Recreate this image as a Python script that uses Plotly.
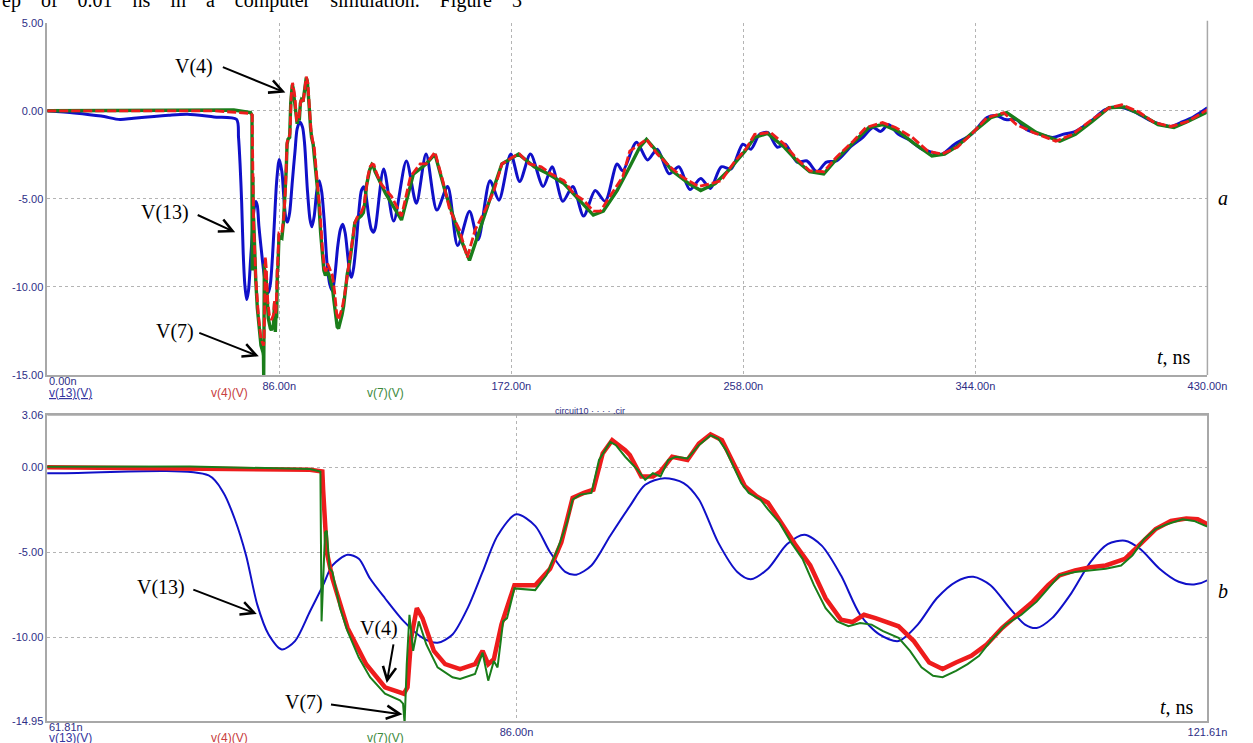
import plotly.graph_objects as go

# ---------------- waveform data (time in ns, voltage in V) ----------------
t13 = [0, 10, 20, 27, 32, 45, 52, 61.81, 70.13, 70.90, 71.48, 72.06, 72.64, 73.22, 73.90,
       74.58, 75.35, 76.03, 76.51, 77.29, 77.87, 78.45, 79.22, 80.19, 81.16, 81.93, 82.70,
       83.48, 84.25, 85.02, 85.99, 86.96, 87.73, 88.51, 89.08, 89.86, 90.83, 91.84, 92.63,
       93.62, 94.61, 95.40, 96.39, 97.38, 98.07, 98.96, 99.95, 100.84, 101.73, 102.72,
       103.71, 104.70, 105.69, 106.68, 107.66, 108.65, 109.54, 110.43, 111.42, 112.21,
       112.81, 113.60, 114.59, 115.58, 116.47, 117.36, 118.15, 119.14, 120.13, 120.92,
       121.61, 124.7, 128.4, 133.1, 136.8, 140.4, 144.4, 148.4, 152.1, 156.5, 159.7, 164.1,
       167.4, 171.8, 175.1, 179.1, 183.8, 187.1, 191.1, 194.8, 198.8, 203.1, 206.8, 211.2,
       213.3, 218.4, 222.5, 226.1, 230.5, 234.1, 238.2, 242.2, 245.8, 249.8, 253.5, 257.8,
       260.8, 264.0, 267.0, 270.6, 273.5, 277.9, 281.6, 285.2, 288.8, 292.5, 298.0, 302.3,
       306.0, 308.9, 311.8, 315.5, 319.1, 324.2, 327.9, 331.5, 336.3, 342.5, 348.3, 351.9,
       355.2, 359.2, 362.9, 368.0, 372.7, 376.4, 381.1, 386.2, 392.1, 397.2, 403.0, 408.1,
       412.8, 416.5, 420.1, 424.9, 430.0]
v13 = [0.0, -0.12, -0.30, -0.50, -0.42, -0.25, -0.20, -0.35, -0.48, -1.51, -3.06, -5.19,
       -8.10, -9.84, -10.72, -10.23, -8.49, -6.94, -5.78, -5.15, -5.39, -6.55, -7.71, -9.07,
       -10.04, -10.33, -9.84, -8.29, -6.16, -4.03, -2.77, -3.45, -5.00, -6.16, -6.32, -5.78,
       -4.03, -2.29, -1.03, -0.64, -0.93, -1.90, -4.42, -6.16, -6.59, -5.97, -4.52, -3.97,
       -4.61, -6.36, -8.68, -9.84, -10.23, -9.26, -7.71, -6.74, -6.45, -6.94, -8.29, -9.26,
       -9.46, -8.88, -7.42, -5.58, -4.52, -4.32, -4.81, -5.97, -6.74, -6.90, -6.65, -3.30,
       -6.26, -2.85, -5.25, -2.46, -5.64, -4.30, -7.65, -5.70, -7.32, -3.97, -5.08, -2.46,
       -4.02, -2.46, -4.30, -3.18, -5.14, -4.30, -5.98, -4.53, -5.14, -3.02, -3.41, -1.79,
       -2.79, -2.18, -3.58, -3.18, -4.47, -3.85, -4.41, -3.18, -3.30, -1.90, -2.18, -1.34,
       -1.23, -2.07, -1.90, -2.91, -2.85, -3.46, -2.91, -2.85, -2.01, -1.51, -0.95, -1.17,
       -0.78, -1.34, -1.62, -2.18, -2.35, -2.46, -1.90, -1.34, -0.39, -0.28, -0.50, -0.50,
       -1.06, -1.34, -1.51, -1.34, -1.17, -0.67, 0.06, 0.22, -0.06, -0.50, -0.78, -0.89,
       -0.67, -0.34, 0.17]

t4 = [0, 61.81, 75.35, 75.99, 76.03, 76.22, 76.51, 77.29, 78.25, 79.22, 80.19, 80.38,
      80.57, 80.86, 81.15, 81.74, 82.32, 83.09, 83.86, 84.25, 84.54, 84.83, 85.22, 85.89,
      86.96, 87.73, 88.31, 88.89, 89.47, 89.96, 90.44, 90.93, 91.60, 91.84, 92.43, 93.03,
      93.42, 94.02, 94.81, 95.40, 96.00, 96.59, 97.18, 97.77, 98.37, 98.96, 99.75, 100.35,
      101.14, 101.93, 102.72, 103.31, 103.91, 104.50, 105.69, 106.48, 107.27, 107.96,
      108.65, 109.44, 110.23, 111.03, 111.82, 112.61, 113.40, 113.99, 114.79, 115.58,
      116.37, 117.36, 118.15, 118.94, 119.73, 120.52, 121.11, 121.61, 123.6, 127.6, 131.3,
      134.6, 138.2, 140.4, 143.7, 146.6, 149.2, 152.8, 155.7, 158.6, 162.3, 165.6, 168.5,
      173.2, 175.1, 178.7, 183.1, 186.7, 191.5, 195.1, 198.8, 202.4, 205.0, 208.6, 213.3,
      215.9, 219.6, 222.1, 226.1, 230.5, 235.2, 241.4, 246.2, 249.8, 254.9, 258.9, 262.2,
      268.1, 273.2, 277.9, 282.6, 287.8, 292.5, 298.7, 303.4, 309.6, 314.4, 320.6, 326.4,
      331.5, 337.3, 342.5, 348.3, 354.5, 359.2, 365.4, 373.8, 380.0, 386.2, 393.5, 398.3,
      404.5, 410.3, 416.5, 422.7, 430.0]
v4 = [0.0, 0.0, -0.15, -0.25, -1.32, -5.00, -6.55, -9.46, -11.59, -12.95, -13.33, -12.95,
      -10.04, -8.29, -8.88, -10.81, -11.59, -11.88, -11.59, -10.81, -11.59, -11.30, -9.26,
      -6.94, -6.94, -5.97, -4.42, -1.80, -1.51, -1.32, 0.81, 1.59, 1.01, 0.72, -0.54, -0.54,
      -0.25, 0.62, 0.43, 1.40, 1.94, 1.59, 0.23, -1.12, -1.71, -2.09, -3.45, -4.52, -5.78,
      -7.71, -8.97, -9.11, -8.68, -8.88, -9.36, -10.23, -11.49, -11.88, -11.49, -11.10,
      -10.43, -9.46, -8.68, -7.91, -6.94, -6.36, -6.07, -5.88, -5.78, -5.39, -4.52, -3.64,
      -3.16, -3.02, -3.06, -3.35, -4.13, -4.86, -5.98, -3.74, -3.02, -3.02, -2.35, -3.97,
      -5.64, -6.76, -8.32, -6.76, -5.64, -4.53, -3.02, -2.57, -2.46, -3.02, -3.18, -3.58,
      -3.97, -4.69, -5.08, -5.70, -5.70, -4.86, -3.74, -2.29, -1.90, -1.62, -2.46, -3.13,
      -3.74, -4.30, -4.13, -3.97, -2.85, -2.18, -1.34, -1.23, -1.90, -2.74, -3.41, -3.46,
      -2.63, -1.73, -0.95, -0.67, -0.95, -1.51, -2.29, -2.46, -2.07, -1.34, -0.39, -0.11,
      -0.78, -1.23, -1.73, -1.34, -0.61, 0.17, 0.34, -0.06, -0.67, -0.89, -0.61, 0.06]

t7 = [0, 61.81, 69.16, 75.35, 75.89, 75.95, 76.03, 76.13, 76.22, 76.36, 76.51, 76.90,
      77.29, 77.87, 78.45, 79.22, 79.99, 80.15, 80.23, 80.34, 80.48, 80.67, 80.96, 81.35,
      81.93, 82.70, 83.09, 83.86, 84.25, 84.54, 84.83, 85.02, 85.31, 85.51, 85.89, 86.96,
      87.54, 88.12, 88.60, 88.89, 89.28, 89.86, 90.25, 90.83, 91.12, 91.60, 92.24, 92.63,
      93.03, 93.42, 93.82, 94.21, 94.81, 95.40, 96.00, 96.39, 96.79, 97.18, 97.58, 97.97,
      98.57, 98.96, 99.55, 100.15, 100.74, 101.33, 101.93, 102.52, 103.11, 103.71, 104.30,
      104.89, 105.69, 106.28, 106.87, 107.47, 107.96, 108.65, 109.25, 109.84, 110.43,
      111.22, 112.02, 112.81, 113.40, 113.99, 114.79, 115.58, 116.37, 117.16, 117.75,
      118.35, 118.94, 119.53, 120.32, 120.92, 121.51, 125.4, 131.3, 135.7, 140.4, 143.7,
      147.7, 152.8, 156.5, 160.1, 164.8, 168.5, 174.7, 180.5, 185.6, 191.5, 197.7, 202.4,
      206.1, 211.2, 215.9, 219.6, 222.1, 226.8, 231.6, 237.8, 242.2, 247.6, 252.4, 258.6,
      262.2, 267.0, 273.2, 277.9, 282.6, 287.8, 292.5, 299.8, 304.5, 309.6, 315.5, 321.7,
      327.9, 332.6, 337.3, 343.5, 349.7, 355.6, 360.7, 366.5, 375.3, 381.1, 387.3, 393.5,
      399.3, 405.5, 411.7, 417.6, 422.7, 430.0]
v7 = [0.0, 0.04, 0.04, -0.10, -0.25, -9.07, -6.55, -3.84, -3.74, -5.97, -6.16, -8.29,
      -9.65, -11.20, -12.36, -13.33, -13.72, -13.91, -15.08, -11.59, -8.68, -10.81, -9.07,
      -10.43, -11.78, -12.36, -12.46, -12.17, -10.91, -12.56, -11.40, -11.78, -9.07, -8.88,
      -7.13, -7.23, -6.36, -4.81, -3.26, -1.90, -1.61, -1.51, 0.43, 1.49, 1.30, 0.62, -0.15,
      -0.74, -0.35, -0.54, 0.43, 0.62, 0.52, 1.30, 1.88, 1.69, 1.01, 0.04, -0.93, -1.51,
      -1.90, -2.48, -3.26, -4.42, -5.39, -6.94, -8.29, -9.07, -9.36, -9.17, -9.26, -9.65,
      -10.04, -10.81, -11.78, -12.27, -12.36, -11.98, -11.59, -11.10, -10.23, -9.26, -8.68,
      -7.91, -7.13, -6.36, -6.16, -6.07, -5.97, -5.78, -5.19, -4.22, -3.64, -3.35, -3.06,
      -3.16, -3.45, -4.70, -6.20, -3.60, -3.02, -2.46, -4.70, -7.10, -8.50, -6.90, -4.70,
      -3.02, -2.46, -3.18, -3.58, -4.13, -5.14, -5.92, -5.70, -4.53, -3.18, -2.07, -1.62,
      -2.46, -3.41, -4.13, -4.53, -4.13, -3.41, -2.29, -1.51, -1.29, -2.07, -2.85, -3.46,
      -3.58, -2.74, -1.62, -0.95, -0.78, -1.17, -1.90, -2.57, -2.46, -2.01, -1.17, -0.39,
      -0.11, -0.61, -1.23, -1.73, -1.34, -0.61, 0.17, 0.22, -0.22, -0.78, -0.95, -0.61,
      -0.06]

# ---------------- axis ticks ----------------
a_xticks = [86, 172, 258, 344, 430]
a_xtext = ["86.00n", "172.00n", "258.00n", "344.00n", "430.00n"]
a_yticks = [5, 0, -5, -10, -15]
a_ytext = ["5.00", "0.00", "-5.00", "-10.00", "-15.00"]
b_xticks = [86, 121.61]
b_xtext = ["86.00n", "121.61n"]
b_yticks = [3.06, 0, -5, -10, -14.95]
b_ytext = ["3.06", "0.00", "-5.00", "-10.00", "-14.95"]

BLUE = "#1010c8"
RED = "#ee1c1c"
GREEN = "#1a7d1a"
TICK = "#2e2e86"
AXIS = "#a8a8a8"
GRID = "#b4b4b4"

W, H = 1253, 743


def px(x):
    return x / W


def py(y):
    return 1 - y / H


fig = go.Figure()

# panel a (full record)
fig.add_trace(go.Scatter(x=t13, y=v13, mode="lines", line=dict(color=BLUE, width=3, shape="spline", smoothing=0.8),
                         xaxis="x", yaxis="y", showlegend=False, hoverinfo="skip"))
fig.add_trace(go.Scatter(x=t7, y=v7, mode="lines", line=dict(color=GREEN, width=3.4),
                         xaxis="x", yaxis="y", showlegend=False, hoverinfo="skip"))
fig.add_trace(go.Scatter(x=t4, y=v4, mode="lines", line=dict(color=RED, width=2.8, dash="9px,3px"),
                         xaxis="x", yaxis="y", showlegend=False, hoverinfo="skip"))

# panel b (zoomed window of the same record)
fig.add_trace(go.Scatter(x=t13, y=v13, mode="lines", line=dict(color=BLUE, width=2, shape="spline", smoothing=0.8),
                         xaxis="x2", yaxis="y2", showlegend=False, hoverinfo="skip"))
fig.add_trace(go.Scatter(x=t4, y=v4, mode="lines", line=dict(color=RED, width=4.5),
                         xaxis="x2", yaxis="y2", showlegend=False, hoverinfo="skip"))
fig.add_trace(go.Scatter(x=t7, y=v7, mode="lines", line=dict(color=GREEN, width=2),
                         xaxis="x2", yaxis="y2", showlegend=False, hoverinfo="skip"))

tickfont = dict(family="Liberation Sans, Arial, sans-serif", size=11, color=TICK)
common_axis = dict(showline=True, linecolor=AXIS, linewidth=1.5, zeroline=False, ticks="",
                   tickfont=tickfont, gridcolor=GRID, griddash="dot", gridwidth=1)

fig.update_layout(
    width=W, height=H, margin=dict(l=0, r=0, t=0, b=0),
    paper_bgcolor="white", plot_bgcolor="white",
    xaxis=dict(domain=[px(48), px(1227)], range=[0, 430], anchor="y",
               tickvals=a_xticks, ticktext=a_xtext, showgrid=True, **common_axis),
    yaxis=dict(domain=[py(375), py(17)], range=[-15, 5], anchor="x",
               tickvals=a_yticks, ticktext=a_ytext, showgrid=True, **common_axis),
    xaxis2=dict(domain=[px(48), px(1227)], range=[61.81, 121.61], anchor="y2",
                tickvals=b_xticks, ticktext=b_xtext, showgrid=True, mirror=True, **common_axis),
    yaxis2=dict(domain=[py(727), py(416)], range=[-14.95, 3.06], anchor="x2",
                tickvals=b_yticks, ticktext=b_ytext, showgrid=True, mirror=True, **common_axis),
)

shapes = [
    # right border of panel a
    dict(type="line", xref="paper", yref="paper", x0=px(1227), x1=px(1227), y0=py(375), y1=py(15),
         line=dict(color=AXIS, width=1.5)),
    # solid top edge of panel b
    dict(type="line", xref="x2", yref="y2", x0=61.81, x1=121.61, y0=3.06, y1=3.06,
         line=dict(color=AXIS, width=1.5)),
]
fig.update_layout(shapes=shapes)

ann = []
serif = "Liberation Serif, Times New Roman, serif"


def label(text, x, y, size=20, color="black", xanchor="center", family=serif, **kw):
    ann.append(dict(text=text, x=px(x), y=py(y), xref="paper", yref="paper", showarrow=False,
                    xanchor=xanchor, yanchor="middle", font=dict(family=family, size=size, color=color), **kw))


def arrow(x0, y0, x1, y1):
    ann.append(dict(text="", x=px(x1), y=py(y1), xref="paper", yref="paper", showarrow=True,
                    ax=x0 - x1, ay=y0 - y1, arrowhead=5, arrowsize=1.3, arrowwidth=2,
                    arrowcolor="black", standoff=0))


# first tick labels, left-aligned at the axis origin
label("0.00n", 48, 381, size=11, color=TICK, xanchor="left", family=tickfont["family"])
label("61.81n", 48, 733, size=11, color=TICK, xanchor="left", family=tickfont["family"])

# trace captions under each panel
sans = "Liberation Sans, Arial, sans-serif"
for yy in (393, 744):
    label("<u>v(13)(V)</u>", 48, yy, size=12, color="#3535a0", xanchor="left", family=sans)
    label("v(4)(V)", 233, yy, size=12, color="#c84040", family=sans)
    label("v(7)(V)", 392, yy, size=12, color="#3d8a3d", family=sans)

label("circuit10 \u00b7 \u00b7 \u00b7 \u00b7 .cir", 600, 412, size=9, color=TICK, family=sans)

# panel a callouts
label("V(4)", 197, 61)
arrow(226, 62, 290, 88)
label("V(13)", 168, 210)
arrow(200, 212, 239, 230)
label("V(7)", 178, 331)
arrow(202, 332, 263, 356)

# panel b callouts
label("V(13)", 164, 591)
arrow(196, 593, 261, 618)
label("V(4)", 385, 633)
arrow(400, 648, 393, 688)
label("V(7)", 309, 708)
arrow(336, 710, 409, 720)

# panel letters and axis captions
label("<i>a</i>", 1243, 195)
label("<i>b</i>", 1243, 595)
label("<i>t</i>, ns", 1193, 357)
label("<i>t</i>, ns", 1196, 713)

# running text from the page above the figure
sp = "\u00a0\u00a0\u00a0 "
label(sp.join("ep of 0.01 ns in a computer simulation. Figure 3".split(" ")), 0, -6, size=20, xanchor="left")

fig.update_layout(annotations=ann)
fig.write_html("out.html")
